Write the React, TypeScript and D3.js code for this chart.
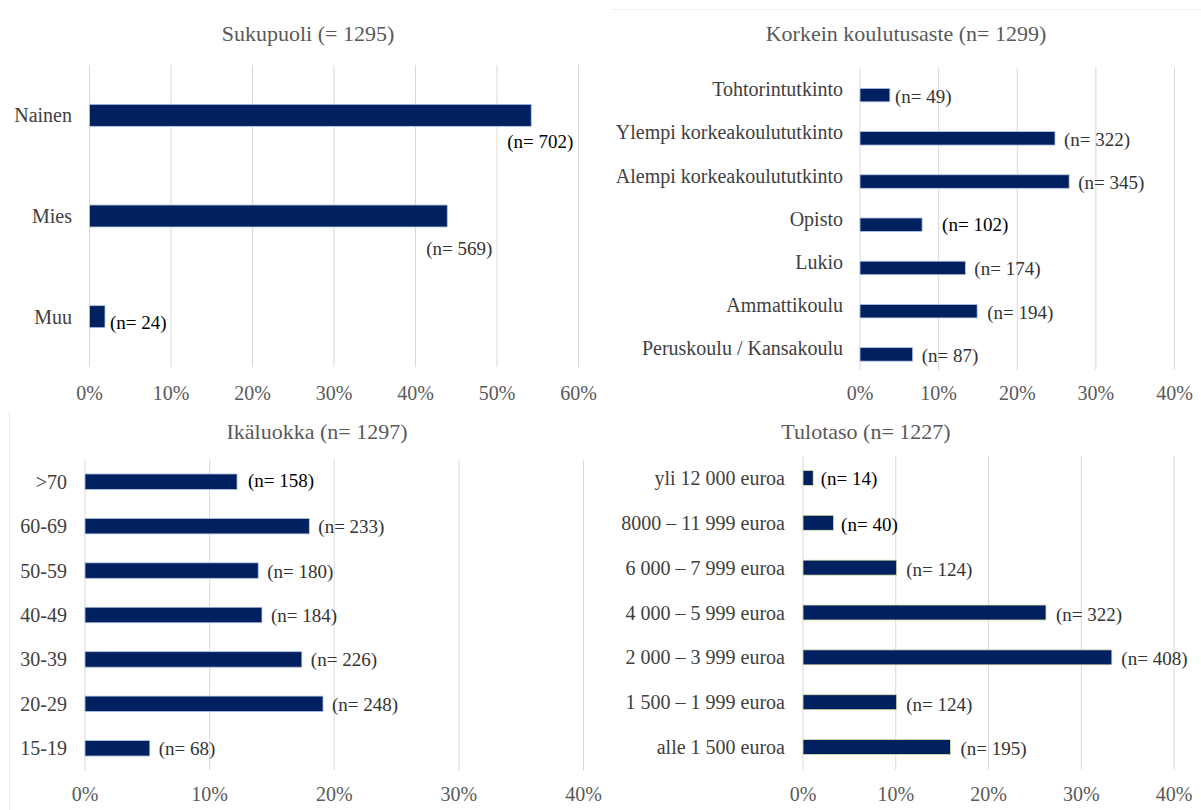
import React from "react";
import * as d3 from "d3";

// ---------- data ----------
const genderTitle = "Sukupuoli (= 1295)";
const genderCats = ["Nainen", "Mies", "Muu"];
const genderPct = [54.2, 43.9, 1.9];
const genderN = [702, 569, 24];
const genderTicks = [0, 10, 20, 30, 40, 50, 60];

const eduTitle = "Korkein koulutusaste (n= 1299)";
const eduCats = [
  "Tohtorintutkinto",
  "Ylempi korkeakoulututkinto",
  "Alempi korkeakoulututkinto",
  "Opisto",
  "Lukio",
  "Ammattikoulu",
  "Peruskoulu / Kansakoulu",
];
const eduPct = [3.8, 24.8, 26.6, 7.9, 13.4, 14.9, 6.7];
const eduN = [49, 322, 345, 102, 174, 194, 87];
const eduTicks = [0, 10, 20, 30, 40];

const ageTitle = "Ikäluokka (n= 1297)";
const ageCats = [">70", "60-69", "50-59", "40-49", "30-39", "20-29", "15-19"];
const agePct = [12.2, 18.0, 13.9, 14.2, 17.4, 19.1, 5.2];
const ageN = [158, 233, 180, 184, 226, 248, 68];
const ageTicks = [0, 10, 20, 30, 40];

const incomeTitle = "Tulotaso (n= 1227)";
const incomeCats = [
  "yli 12 000 euroa",
  "8000 – 11 999 euroa",
  "6 000 – 7 999 euroa",
  "4 000 – 5 999 euroa",
  "2 000 – 3 999 euroa",
  "1 500 – 1 999 euroa",
  "alle 1 500 euroa",
];
const incomePct = [1.1, 3.3, 10.1, 26.2, 33.3, 10.1, 15.9];
const incomeN = [14, 40, 124, 322, 408, 124, 195];
const incomeTicks = [0, 10, 20, 30, 40];

// ---------- layout (label nudges, styles) ----------
const FONT = "'Liberation Serif', 'Times New Roman', Times, serif";
const BAR_FILL = "#002060";

type PanelProps = {
  title: string;
  cats: string[];
  pct: number[];
  n: number[];
  ticks: number[];
  xRange: [number, number];
  yRange: [number, number];
  barH: number;
  barShift: number;
  catRight: number;
  tickY: number;
  titleX: number;
  titleY: number;
  labelDx: number[];
  labelDy: number[];
  labelDark: boolean[];
  barStroke: string;
};

function Panel(p: PanelProps) {
  const x = d3
    .scaleLinear()
    .domain([p.ticks[0], p.ticks[p.ticks.length - 1]])
    .range(p.xRange);
  const y = d3.scaleBand<string>().domain(p.cats).range(p.yRange);
  const bw = y.bandwidth();
  return (
    <g>
      <text
        x={p.titleX}
        y={p.titleY}
        textAnchor="middle"
        dominantBaseline="central"
        fontSize={22}
        fill="#595959"
      >
        {p.title}
      </text>
      {p.ticks.map((t) => (
        <line
          key={"g" + t}
          x1={x(t)}
          x2={x(t)}
          y1={p.yRange[0]}
          y2={p.yRange[1]}
          stroke="#d9d9d9"
          strokeWidth={1}
        />
      ))}
      {p.ticks.map((t) => (
        <text
          key={"t" + t}
          x={x(t)}
          y={p.tickY}
          textAnchor="middle"
          dominantBaseline="central"
          fontSize={20}
          fill="#595959"
        >
          {t + "%"}
        </text>
      ))}
      {p.cats.map((c, i) => {
        const cy = (y(c) as number) + bw / 2;
        const by = cy + p.barShift;
        const x0 = x(0);
        const x1 = x(p.pct[i]);
        return (
          <g key={c}>
            <text
              x={p.catRight}
              y={cy}
              textAnchor="end"
              dominantBaseline="central"
              fontSize={20}
              fill="#404040"
            >
              {c}
            </text>
            <rect
              x={x0}
              y={by - p.barH / 2}
              width={x1 - x0}
              height={p.barH}
              fill={BAR_FILL}
              stroke={p.barStroke}
              strokeWidth={0.8}
            />
            <text
              x={x1 + p.labelDx[i]}
              y={by + p.labelDy[i]}
              dominantBaseline="central"
              fontSize={19}
              fill={p.labelDark[i] ? "#000000" : "#333333"}
            >
              {"(n= " + p.n[i] + ")"}
            </text>
          </g>
        );
      })}
    </g>
  );
}

export default function App() {
  return (
    <svg
      width={1201}
      height={810}
      style={{ position: "absolute", left: 0, top: 0, background: "#ffffff" }}
      fontFamily={FONT}
    >
      <rect x={0} y={0} width={1201} height={810} fill="#ffffff" />
      {/* faint frame fragments */}
      <line x1={611} x2={1201} y1={9.5} y2={9.5} stroke="#f0f0f0" />
      <line x1={9.5} x2={9.5} y1={411} y2={810} stroke="#ececec" />

      <Panel
        title={genderTitle}
        cats={genderCats}
        pct={genderPct}
        n={genderN}
        ticks={genderTicks}
        xRange={[89.5, 578.5]}
        yRange={[65, 367]}
        barH={22}
        barShift={0}
        catRight={72}
        tickY={393}
        titleX={308}
        titleY={33}
        labelDx={[-24, -21, 5]}
        labelDy={[26, 32, 6]}
        labelDark={[true, false, true]}
        barStroke="#b4c7e7"
      />
      <Panel
        title={eduTitle}
        cats={eduCats}
        pct={eduPct}
        n={eduN}
        ticks={eduTicks}
        xRange={[860, 1174.5]}
        yRange={[67.5, 370]}
        barH={13.5}
        barShift={6}
        catRight={843}
        tickY={393}
        titleX={906}
        titleY={33}
        labelDx={[5, 9, 9, 20, 9, 10, 9]}
        labelDy={[1, 1, 1, 0, 1, 1, 1]}
        labelDark={[false, false, false, true, false, false, false]}
        barStroke="#b4c7e7"
      />
      <Panel
        title={ageTitle}
        cats={ageCats}
        pct={agePct}
        n={ageN}
        ticks={ageTicks}
        xRange={[85, 583.5]}
        yRange={[459.5, 770.5]}
        barH={15.5}
        barShift={0}
        catRight={67}
        tickY={794}
        titleX={317}
        titleY={431}
        labelDx={[11, 9, 9, 9, 9, 9, 9]}
        labelDy={[-1.5, 0.5, 0.5, 0.5, 0.5, 0.5, 0.5]}
        labelDark={[true, false, false, false, false, false, false]}
        barStroke="#b4c7e7"
      />
      <Panel
        title={incomeTitle}
        cats={incomeCats}
        pct={incomePct}
        n={incomeN}
        ticks={incomeTicks}
        xRange={[803, 1174]}
        yRange={[455.5, 769.5]}
        barH={15}
        barShift={0}
        catRight={785}
        tickY={794}
        titleX={866}
        titleY={431}
        labelDx={[7.5, 7.5, 9.5, 10, 9.5, 9.5, 10]}
        labelDy={[1, 2, 1.5, 1.5, 1.5, 2, 1.5]}
        labelDark={[true, true, false, false, false, false, false]}
        barStroke="#dfe4a8"
      />
    </svg>
  );
}
